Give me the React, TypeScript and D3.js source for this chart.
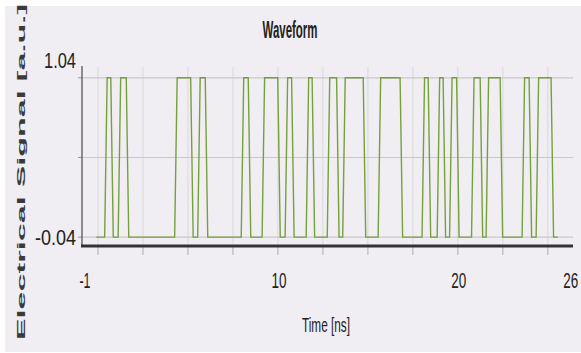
import * as d3 from "d3";
import React from "react";

// waveform: time (ns) and level (a.u.)
const waveTime = [
  -0.1, 0.37, 0.51, 0.71, 0.85, 1.12, 1.26, 1.57, 1.71,
  4.26, 4.4, 5.15, 5.29, 5.54, 5.68, 5.96, 6.1,
  7.96, 8.1, 8.35, 8.49, 9.12, 9.26, 9.99, 10.13,
  10.4, 10.54, 10.76, 10.9, 11.57, 11.71, 11.9, 12.04,
  12.74, 12.88, 13.26, 13.4, 13.6, 13.74, 14.74, 14.88,
  15.57, 15.71, 16.79, 16.93, 18.01, 18.15, 18.35, 18.49,
  18.85, 18.99, 19.18, 19.32, 19.54, 19.68, 19.93, 20.07,
  20.76, 20.9, 21.24, 21.38, 21.57, 21.71, 22.35, 22.49,
  23.57, 23.71, 23.96, 24.1, 24.35, 24.49, 25.18, 25.32, 25.55,
];
const waveLevel = [
  -0.04, -0.04, 1.04, 1.04, -0.04, -0.04, 1.04, 1.04, -0.04,
  -0.04, 1.04, 1.04, -0.04, -0.04, 1.04, 1.04, -0.04,
  -0.04, 1.04, 1.04, -0.04, -0.04, 1.04, 1.04, -0.04,
  -0.04, 1.04, 1.04, -0.04, -0.04, 1.04, 1.04, -0.04,
  -0.04, 1.04, 1.04, -0.04, -0.04, 1.04, 1.04, -0.04,
  -0.04, 1.04, 1.04, -0.04, -0.04, 1.04, 1.04, -0.04,
  -0.04, 1.04, 1.04, -0.04, -0.04, 1.04, 1.04, -0.04,
  -0.04, 1.04, 1.04, -0.04, -0.04, 1.04, 1.04, -0.04,
  -0.04, 1.04, 1.04, -0.04, -0.04, 1.04, 1.04, -0.04, -0.04,
];

const yGrid = [-0.04, 0.5, 1.04];
const yLabels = ["-0.04", "1.04"];
const yLabelValues = [-0.04, 1.04];
const xGrid = [0, 2.5, 5, 7.5, 10, 12.5, 15, 17.5, 20, 22.5, 25];
const xLabels = ["-1", "10", "20", "26"];
const xLabelValues = [-1, 10, 20, 26];

const W = 581;
const H = 353;

export default function App() {
  const x = d3.scaleLinear().domain([-1, 26.4]).range([80, 573]);
  const y = d3.scaleLinear().domain([-0.1, 1.12]).range([246, 66]);

  const line = d3
    .line<number>()
    .x((t) => x(t))
    .y((_, i) => y(waveLevel[i]));

  const font = "'Liberation Sans', Arial, sans-serif";

  return (
    <div style={{ position: "fixed", left: 0, top: 0 }}>
      <svg width={W} height={H} style={{ display: "block" }} fontFamily={font}>
        <rect width={W} height={H} fill="#fff" />
        <rect x={5} y={6} width={W - 5} height={346} fill="#f0eef2" />

        {/* grid */}
        {xGrid.map((t) => (
          <line key={"gx" + t} x1={x(t)} x2={x(t)} y1={67} y2={245} stroke="#d9d8dc" strokeWidth={1} />
        ))}
        {yGrid.map((v) => (
          <line key={"gy" + v} x1={82} x2={573} y1={y(v)} y2={y(v)} stroke="#c9c8cc" strokeWidth={1.2} />
        ))}
        {yGrid.map((v) => (
          <line key={"ty" + v} x1={78} x2={82} y1={y(v)} y2={y(v)} stroke="#999" strokeWidth={1} />
        ))}

        {/* x ticks */}
        {xGrid.map((t) => (
          <line key={"tx" + t} x1={x(t)} x2={x(t)} y1={247} y2={255} stroke="#b8b8bc" strokeWidth={1.2} />
        ))}

        {/* axes */}
        <line x1={82} x2={82} y1={66} y2={247} stroke="#555" strokeWidth={1.3} />
        <line x1={81} x2={573} y1={246} y2={246} stroke="#333" strokeWidth={3} />

        {/* waveform */}
        <path d={line(waveTime) ?? ""} fill="none" stroke="#76a03c" strokeWidth={1.4} />

        {/* tick labels */}
        {yLabels.map((s, i) => (
          <text
            key={s}
            x={76}
            y={yLabelValues[i] > 0.5 ? y(yLabelValues[i]) - 10 : y(yLabelValues[i]) + 8}
            textAnchor="end"
            fontSize={22}
            fill="#222"
            textLength={s.length > 4 ? 41 : 32}
            lengthAdjust="spacingAndGlyphs"
          >
            {s}
          </text>
        ))}
        {xLabels.map((s, i) => (
          <text
            key={s}
            x={i === 0 || i === 3 ? x(xLabelValues[i]) + 5 : x(xLabelValues[i]) + 1}
            y={288}
            textAnchor="middle"
            fontSize={22}
            fill="#222"
            textLength={i === 0 ? 11 : 15}
            lengthAdjust="spacingAndGlyphs"
          >
            {s}
          </text>
        ))}

        {/* titles */}
        <text x={290} y={38} textAnchor="middle" fontSize={23} fontWeight="bold" fill="#222" textLength={55} lengthAdjust="spacingAndGlyphs">
          Waveform
        </text>
        <text x={326} y={332} textAnchor="middle" fontSize={21} fill="#222" textLength={48} lengthAdjust="spacingAndGlyphs">
          Time [ns]
        </text>
        <text
          transform="translate(25,172) rotate(-90)"
          textAnchor="middle"
          fontSize={10}
          fontWeight="bold"
          fill="#3a3a3a"
          textLength={336}
          lengthAdjust="spacingAndGlyphs"
        >
          Electrical Signal [a.u.]
        </text>
      </svg>
    </div>
  );
}
